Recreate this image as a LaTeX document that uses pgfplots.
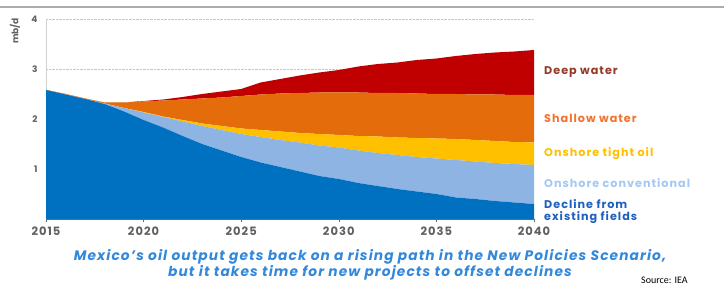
\documentclass[border=0pt]{standalone}
\usepackage{pgfplots}
\pgfplotsset{compat=1.18}
\usepackage{pgfplotstable}
\usepackage{fontspec}
\setmainfont{Poppins}
\newfontfamily\srcfont{Carlito}
\definecolor{cBlue}{HTML}{0070C0}
\definecolor{cLBlue}{HTML}{8EB4E3}
\definecolor{cYellow}{HTML}{FFC000}
\definecolor{cOrange}{HTML}{E46C0A}
\definecolor{cRed}{HTML}{C00000}
\definecolor{tDeep}{HTML}{953A28}
\definecolor{tShallow}{HTML}{F3732E}
\definecolor{tTight}{HTML}{FFC000}
\definecolor{tConv}{HTML}{A3C8F2}
\definecolor{tDecl}{HTML}{1F5FBF}
\definecolor{tCap}{HTML}{3388DA}
\definecolor{tGray}{HTML}{606060}
\pgfplotstableread{
year decl conv tight shallow deep
2015 2.58 0.00 0.00 0.00 0.00
2016 2.49 0.00 0.00 0.01 0.00
2017 2.40 0.00 0.00 0.01 0.00
2018 2.30 0.01 0.00 0.02 0.00
2019 2.15 0.07 0.00 0.11 0.00
2020 1.98 0.15 0.01 0.21 0.01
2021 1.83 0.21 0.01 0.32 0.02
2022 1.66 0.29 0.03 0.41 0.05
2023 1.50 0.36 0.05 0.50 0.09
2024 1.37 0.41 0.08 0.57 0.12
2025 1.24 0.46 0.11 0.65 0.14
2026 1.13 0.51 0.14 0.71 0.24
2027 1.04 0.54 0.17 0.76 0.29
2028 0.95 0.58 0.19 0.80 0.35
2029 0.86 0.61 0.23 0.83 0.40
2030 0.80 0.63 0.25 0.85 0.45
2031 0.72 0.65 0.29 0.87 0.52
2032 0.66 0.66 0.33 0.87 0.58
2033 0.60 0.68 0.35 0.89 0.61
2034 0.55 0.69 0.38 0.89 0.67
2035 0.50 0.71 0.40 0.89 0.71
2036 0.43 0.75 0.42 0.90 0.76
2037 0.40 0.75 0.43 0.91 0.81
2038 0.36 0.76 0.44 0.93 0.84
2039 0.33 0.77 0.44 0.94 0.87
2040 0.30 0.78 0.45 0.95 0.90
}\datatable
\begin{document}
\begin{tikzpicture}[x=1pt,y=1pt]
\useasboundingbox (0,0) rectangle (724,286);
\draw[gray!65, line width=1.3pt] (0,279) -- (724,279);
\begin{axis}[
  at={(46pt,67pt)}, anchor=south west,
  scale only axis, width=488pt, height=200pt,
  xmin=2015, xmax=2040, ymin=0, ymax=4,
  axis x line=bottom, axis y line=left,
  axis line style={-},
  x axis line style={draw=gray!85!black, line width=0.8pt},
  y axis line style={draw=gray!35, line width=0.6pt},
  xtick={2015,2020,2025,2030,2035,2040},
  ytick={1,2,3,4},
  tick align=outside,
  major tick length=3pt,
  xtick style={draw=gray!85!black, line width=0.6pt},
  ytick style={draw=none},
  ymajorgrids,
  grid style={gray!45, densely dotted, line width=0.7pt},
  /pgf/number format/assume math mode=true,
  /pgf/number format/1000 sep={},
  xticklabel style={font=\fontsize{11.5}{12}\selectfont\bfseries\addfontfeatures{LetterSpace=9}, text=tGray, yshift=-1pt},
  yticklabel style={font=\fontsize{9}{10}\selectfont\bfseries, text=tGray, xshift=-2pt},
  stack plots=y,
  clip=false,
]
\addplot[fill=cBlue, draw=none] table[x=year, y=decl] {\datatable} \closedcycle;
\addplot[fill=cLBlue, draw=none] table[x=year, y=conv] {\datatable} \closedcycle;
\addplot[fill=cYellow, draw=none] table[x=year, y=tight] {\datatable} \closedcycle;
\addplot[fill=cOrange, draw=none] table[x=year, y=shallow] {\datatable} \closedcycle;
\addplot[fill=cRed, draw=none] table[x=year, y=deep] {\datatable} \closedcycle;
\end{axis}
\node[rotate=90, text=tGray, font=\fontsize{9}{10}\selectfont\bfseries] at (15,255) {mb/d};
\begin{scope}[every node/.style={anchor=west, inner sep=0pt, font=\fontsize{11.2}{12}\selectfont\bfseries\addfontfeatures{LetterSpace=9}}]
\node[text=tDeep] at (544,214) {Deep water};
\node[text=tShallow] at (544,168) {Shallow water};
\node[text=tTight] at (544,132) {Onshore tight oil};
\node[text=tConv] at (544,103) {Onshore conventional};
\node[text=tDecl] at (544,82) {Decline from};
\node[text=tDecl] at (544,68) {existing fields};
\end{scope}
\node[text=tCap, font=\fontsize{13.75}{14}\selectfont\bfseries\itshape\addfontfeatures{LetterSpace=8}, inner sep=0pt] at (370,29) {Mexico's oil output gets back on a rising path in the New Policies Scenario,};
\node[text=tCap, font=\fontsize{13.75}{14}\selectfont\bfseries\itshape\addfontfeatures{LetterSpace=8}, inner sep=0pt] at (370,13) {but it takes time for new projects to offset declines};
\node[anchor=north west, inner sep=0pt, font=\srcfont\fontsize{10}{11}\selectfont] at (641,9.5) {Source: IEA};
\end{tikzpicture}
\end{document}
